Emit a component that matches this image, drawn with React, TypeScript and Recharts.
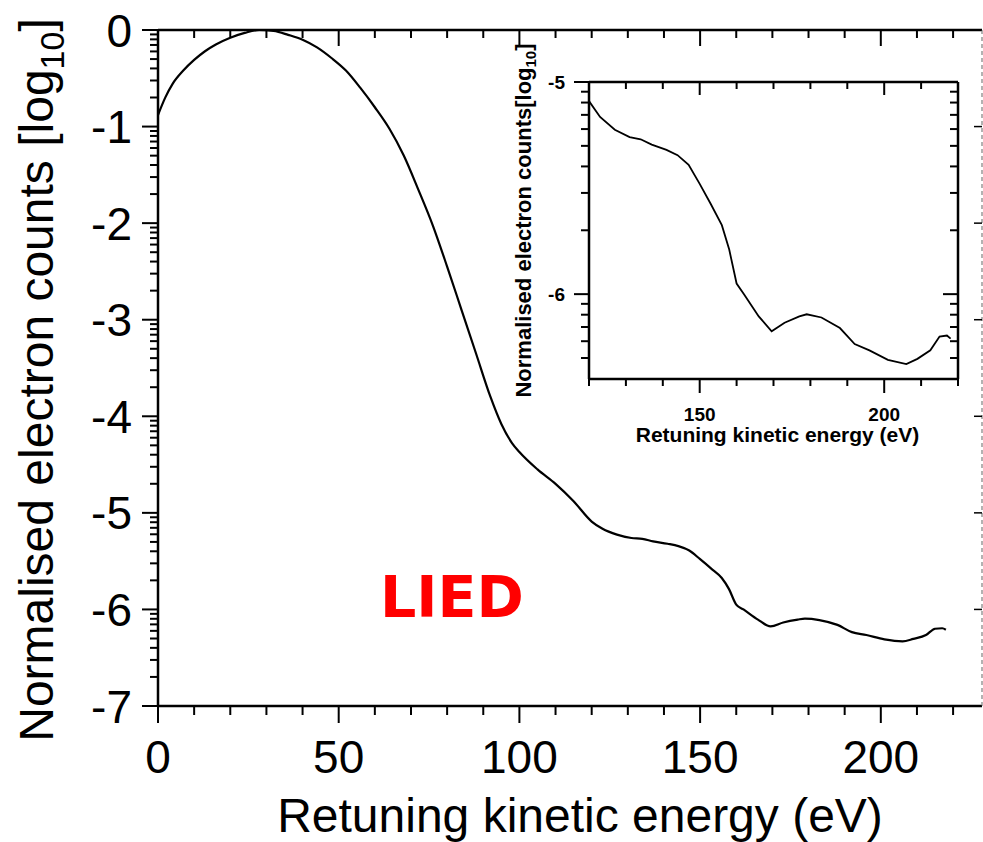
import { LineChart, Line, XAxis, YAxis, Label } from "recharts";

// retuning kinetic energy (eV) and log10 normalised counts
const energy = [
  0, 2, 4, 7, 10, 13, 16, 20, 24, 28, 32, 36, 40, 44, 48, 52, 56, 60, 64, 68, 72, 76, 80, 84, 88, 92, 95,
  98, 100, 105, 110, 115, 120, 123, 127, 131, 134, 137, 141, 144, 147, 150, 153, 156, 158, 160, 162, 166,
  169.5, 173, 177, 179, 183, 188, 192, 196, 201, 206, 209, 212.5, 215, 217, 218,
];
const counts = [
  -0.88, -0.7, -0.56, -0.42, -0.31, -0.22, -0.15, -0.08, -0.03, 0, -0.01, -0.05, -0.1, -0.18, -0.29, -0.42,
  -0.6, -0.8, -1.02, -1.3, -1.65, -2.02, -2.45, -2.9, -3.35, -3.8, -4.08, -4.28, -4.37, -4.55, -4.7, -4.88,
  -5.09, -5.165, -5.225, -5.26, -5.27, -5.295, -5.32, -5.345, -5.39, -5.48, -5.575, -5.675, -5.79, -5.95,
  -6.0, -6.105, -6.175, -6.135, -6.105, -6.095, -6.11, -6.16, -6.235, -6.265, -6.31, -6.33, -6.305, -6.265,
  -6.2, -6.195, -6.21,
];

const mainXTicks = [0, 10, 20, 30, 40, 50, 60, 70, 80, 90, 100, 110, 120, 130, 140, 150, 160, 170, 180, 190, 200, 210, 220];
const mainXLabels = [0, 50, 100, 150, 200];
const mainYMajor = [0, -1, -2, -3, -4, -5, -6, -7];

const insetXTicks = [120, 130, 140, 150, 160, 170, 180, 190, 200, 210, 220];
const insetXLabels = [150, 200];
const insetYMajor = [-5, -6];

const logSteps = [2, 3, 4, 5, 6, 7, 8, 9];

const mainData = energy.map((x, i) => ({ x, y: counts[i] }));
const insetData = mainData.filter((d) => d.x >= 120);

// log10 minor ticks below each decade
function withMinors(majors: number[], lo: number, hi: number) {
  const out = [...majors];
  majors.forEach((m) => {
    logSteps.forEach((k) => {
      const v = m - 1 + Math.log10(k);
      if (v > lo + 0.01 && v < hi) out.push(v);
    });
  });
  return out.sort((a, b) => a - b);
}

const mainYTicks = withMinors(mainYMajor, -7, 0);
const insetYTicks = withMinors(insetYMajor, -6.4, -5);

const FONT = '"Liberation Sans", Arial, sans-serif';

type TickCfg = {
  side: "left" | "right" | "top" | "bottom";
  inward: boolean;
  major: number;
  minor: number;
  majors: number[];
  labels: number[];
  fontSize: number;
  bold?: boolean;
  offset: number;
  width?: number;
};

const isIn = (v: number, arr: number[]) => arr.some((a) => Math.abs(a - v) < 1e-6);

function makeTick(c: TickCfg) {
  return (props: any) => {
    const { x, y, payload } = props;
    const v = payload.value;
    const len = isIn(v, c.majors) ? c.major : c.minor;
    const showLabel = isIn(v, c.labels);
    const sw = c.width ?? 2;
    const txt = Math.abs(v) < 1e-9 ? "0" : String(v);
    const weight = c.bold ? "bold" : "normal";
    if (c.side === "left" || c.side === "right") {
      // +1 points right
      const s = c.side === "left" ? (c.inward ? 1 : -1) : c.inward ? -1 : 1;
      return (
        <g>
          {len > 0 && <line x1={x} x2={x + s * len} y1={y} y2={y} stroke="#000" strokeWidth={sw} />}
          {showLabel && (
            <text x={x - c.offset} y={y + c.fontSize * 0.36} textAnchor="end" fontSize={c.fontSize} fontWeight={weight} fontFamily={FONT} fill="#000">
              {txt}
            </text>
          )}
        </g>
      );
    }
    // +1 points down
    const s = c.side === "bottom" ? (c.inward ? -1 : 1) : c.inward ? 1 : -1;
    return (
      <g>
        {len > 0 && <line x1={x} x2={x} y1={y} y2={y + s * len} stroke="#000" strokeWidth={sw} />}
        {showLabel && (
          <text x={x} y={y + c.offset} textAnchor="middle" fontSize={c.fontSize} fontWeight={weight} fontFamily={FONT} fill="#000">
            {txt}
          </text>
        )}
      </g>
    );
  };
}

const mainBottomTick = makeTick({ side: "bottom", inward: false, major: 17, minor: 9, majors: mainXLabels, labels: mainXLabels, fontSize: 46, offset: 67 });
const mainTopTick = makeTick({ side: "top", inward: true, major: 16, minor: 8, majors: mainXLabels, labels: [], fontSize: 46, offset: 0 });
const mainLeftTick = makeTick({ side: "left", inward: false, major: 16, minor: 8, majors: mainYMajor, labels: mainYMajor, fontSize: 46, offset: 26 });
const mainRightTick = makeTick({ side: "right", inward: true, major: 8, minor: 0, majors: mainYMajor, labels: [], fontSize: 46, offset: 0, width: 1.5 });

const insetBottomTick = makeTick({ side: "bottom", inward: false, major: 14, minor: 7, majors: insetXLabels, labels: insetXLabels, fontSize: 19, bold: true, offset: 42 });
const insetTopTick = makeTick({ side: "top", inward: true, major: 13, minor: 7, majors: insetXLabels, labels: [], fontSize: 19, offset: 0 });
const insetLeftTick = makeTick({ side: "left", inward: false, major: 15, minor: 8, majors: insetYMajor, labels: insetYMajor, fontSize: 19, bold: true, offset: 24 });
const insetRightTick = makeTick({ side: "right", inward: true, major: 15, minor: 8, majors: insetYMajor, labels: [], fontSize: 19, offset: 0 });

const axisLine = { stroke: "#000", strokeWidth: 2.5 };

function XTitle({ viewBox, dx, dy, size, bold }: any) {
  const vb = viewBox || {};
  return (
    <text x={vb.x + vb.width / 2 + dx} y={vb.y + dy} textAnchor="middle" fontSize={size} fontWeight={bold ? "bold" : "normal"} fontFamily={FONT} fill="#000">
      Retuning kinetic energy (eV)
    </text>
  );
}

function YTitle({ viewBox, px, dy, size, bold, text }: any) {
  const vb = viewBox || {};
  const cx = vb.x + px;
  const cy = vb.y + vb.height / 2 + dy;
  const sub = Math.round(size * 0.7);
  return (
    <text
      x={cx}
      y={cy}
      transform={`rotate(-90 ${cx} ${cy})`}
      textAnchor="middle"
      fontSize={size}
      fontWeight={bold ? "bold" : "normal"}
      fontFamily={FONT}
      fill="#000"
    >
      {text}
      <tspan fontSize={sub} dy={size * 0.22}>
        10
      </tspan>
      <tspan dy={-size * 0.22}>]</tspan>
    </text>
  );
}

export default function App() {
  return (
    <div style={{ position: "fixed", left: 0, top: 0, width: 983, height: 842, overflow: "hidden", background: "#fff" }}>
      <LineChart width={983} height={842} data={mainData} margin={{ top: 29, right: 0, bottom: 0, left: 0 }}>
        <XAxis
          dataKey="x"
          type="number"
          domain={[0, 228]}
          allowDataOverflow
          ticks={mainXTicks}
          interval={0}
          height={136}
          tickSize={0}
          tickMargin={0}
          tickLine={false}
          axisLine={axisLine}
          tick={mainBottomTick}
        >
          <Label content={(p: any) => <XTitle {...p} dx={10} dy={126} size={48} />} />
        </XAxis>
        <XAxis
          xAxisId="top"
          orientation="top"
          dataKey="x"
          type="number"
          domain={[0, 228]}
          allowDataOverflow
          ticks={mainXTicks}
          interval={0}
          height={1}
          tickSize={0}
          tickMargin={0}
          tickLine={false}
          axisLine={axisLine}
          tick={mainTopTick}
        />
        <YAxis
          type="number"
          domain={[-7, 0]}
          allowDataOverflow
          ticks={mainYTicks}
          interval={0}
          width={158}
          tickSize={0}
          tickMargin={0}
          tickLine={false}
          axisLine={axisLine}
          tick={mainLeftTick}
        >
          <Label content={(p: any) => <YTitle {...p} px={53} dy={12} size={48} text="Normalised electron counts [log" />} />
        </YAxis>
        <YAxis
          yAxisId="right"
          orientation="right"
          type="number"
          domain={[-7, 0]}
          allowDataOverflow
          ticks={mainYMajor}
          interval={0}
          width={1}
          tickSize={0}
          tickMargin={0}
          tickLine={false}
          axisLine={{ stroke: "#999", strokeWidth: 1.5, strokeDasharray: "4 3" }}
          tick={mainRightTick}
        />
        <Line dataKey="y" type="monotone" stroke="#000" strokeWidth={2.2} dot={false} isAnimationActive={false} />
      </LineChart>

      <div style={{ position: "absolute", left: 500, top: 30 }}>
        <LineChart width={483} height={430} data={insetData} margin={{ top: 51, right: 24, bottom: 0, left: 0 }}>
          <XAxis
            dataKey="x"
            type="number"
            domain={[120, 220]}
            allowDataOverflow
            ticks={insetXTicks}
            interval={0}
            height={81}
            tickSize={0}
            tickMargin={0}
            tickLine={false}
            axisLine={axisLine}
            tick={insetBottomTick}
          >
            <Label content={(p: any) => <XTitle {...p} dx={4} dy={63} size={21} bold />} />
          </XAxis>
          <XAxis
            xAxisId="top"
            orientation="top"
            dataKey="x"
            type="number"
            domain={[120, 220]}
            allowDataOverflow
            ticks={insetXTicks}
            interval={0}
            height={1}
            tickSize={0}
            tickMargin={0}
            tickLine={false}
            axisLine={axisLine}
            tick={insetTopTick}
          />
          <YAxis
            type="number"
            domain={[-6.4, -5]}
            allowDataOverflow
            ticks={insetYTicks}
            interval={0}
            width={89}
            tickSize={0}
            tickMargin={0}
            tickLine={false}
            axisLine={axisLine}
            tick={insetLeftTick}
          >
            <Label content={(p: any) => <YTitle {...p} px={31} dy={-10} size={22} bold text="Normalised electron counts[log" />} />
          </YAxis>
          <YAxis
            yAxisId="right"
            orientation="right"
            type="number"
            domain={[-6.4, -5]}
            allowDataOverflow
            ticks={insetYTicks}
            interval={0}
            width={1}
            tickSize={0}
            tickMargin={0}
            tickLine={false}
            axisLine={axisLine}
            tick={insetRightTick}
          />
          <Line dataKey="y" type="linear" stroke="#000" strokeWidth={1.8} dot={false} isAnimationActive={false} />
        </LineChart>
      </div>

      <svg width={983} height={842} style={{ position: "absolute", left: 0, top: 0, pointerEvents: "none" }}>
        <text x={380} y={617} fontSize={57} fontWeight="bold" fontFamily='"DejaVu Sans", sans-serif' fill="#ff0000">
          LIED
        </text>
      </svg>
    </div>
  );
}
